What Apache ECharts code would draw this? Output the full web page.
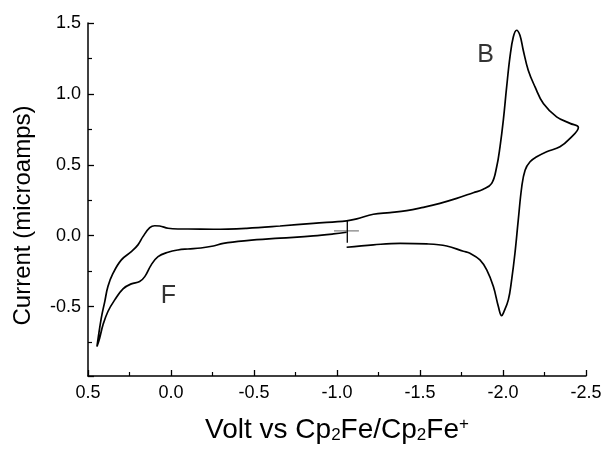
<!DOCTYPE html>
<html>
<head>
<meta charset="utf-8">
<script src="https://cdn.jsdelivr.net/npm/echarts@6/dist/echarts.min.js"></script>
<style>
html,body{margin:0;padding:0;background:#fff;}
#chart{width:603px;height:451px;}
</style>
</head>
<body>
<div id="chart"></div>
<script>
// Lower-left branch (from switching point toward positive limit)
const lowerLeftV = [-1.058,-0.978,-0.857,-0.657,-0.456,-0.315,-0.255,-0.180,-0.102,-0.042,0.018,0.078,0.119,0.158,0.189,0.239,0.289,0.339,0.380,0.410,0.430,0.446];
const lowerLeftI = [0.024,0.012,-0.002,-0.018,-0.035,-0.054,-0.073,-0.087,-0.094,-0.101,-0.117,-0.148,-0.206,-0.289,-0.324,-0.340,-0.375,-0.453,-0.535,-0.630,-0.723,-0.782];
// Upper branch (positive limit to negative limit, through peak B)
const upperV = [0.446,0.420,0.399,0.380,0.349,0.299,0.239,0.199,0.169,0.128,0.098,0.068,0.018,-0.042,-0.102,-0.255,-0.456,-0.657,-0.857,-1.058,-1.119,-1.219,-1.319,-1.420,-1.520,-1.620,-1.721,-1.821,-1.881,-1.932,-1.962,-1.982,-2.002,-2.022,-2.042,-2.062,-2.082,-2.102,-2.122,-2.152,-2.193,-2.243,-2.323,-2.404,-2.454];
const upperI = [-0.782,-0.582,-0.465,-0.359,-0.265,-0.171,-0.113,-0.065,-0.007,0.056,0.070,0.068,0.052,0.047,0.047,0.045,0.052,0.068,0.087,0.104,0.118,0.151,0.162,0.176,0.200,0.228,0.263,0.303,0.327,0.369,0.486,0.627,0.815,1.049,1.261,1.401,1.449,1.413,1.308,1.167,1.049,0.932,0.838,0.792,0.763];
// Return branch (negative limit back to switching point)
const returnV = [-2.454,-2.404,-2.343,-2.263,-2.203,-2.163,-2.133,-2.113,-2.092,-2.072,-2.052,-2.032,-2.002,-1.992,-1.972,-1.942,-1.902,-1.861,-1.801,-1.761,-1.661,-1.540,-1.380,-1.219,-1.058];
const returnI = [0.763,0.686,0.627,0.592,0.556,0.521,0.462,0.345,0.111,-0.124,-0.312,-0.453,-0.546,-0.565,-0.500,-0.359,-0.242,-0.171,-0.124,-0.110,-0.073,-0.058,-0.054,-0.065,-0.082];
// Start marker (cross)
const markerVertV = [-1.062,-1.062];
const markerVertI = [0.105,-0.050];
const markerHorzV = [-0.982,-1.132];
const markerHorzI = [0.033,0.033];
// Peak labels
const labelV = [-1.895, 0.015];
const labelI = [1.273, -0.425];
const labelText = ['B', 'F'];

const FONT = '"Liberation Sans", Arial, Helvetica, sans-serif';

function pairs(v, i, skipFirst) {
  const out = [];
  for (let k = skipFirst ? 1 : 0; k < v.length; k++) out.push([v[k], i[k]]);
  return out;
}
const cvPath = pairs(lowerLeftV, lowerLeftI, false)
  .concat(pairs(upperV, upperI, true))
  .concat(pairs(returnV, returnI, true));

const chart = echarts.init(document.getElementById('chart'), null, {renderer: 'canvas'});
chart.setOption({
  animation: false,
  backgroundColor: '#fff',
  grid: {left: 88, right: 17, top: 23, bottom: 75, containLabel: false, outerBoundsMode: 'none'},
  xAxis: {
    type: 'value', inverse: true, min: -2.5, max: 0.5, interval: 0.5,
    axisLine: {show: true, onZero: false, lineStyle: {color: '#000', width: 1.5}},
    axisTick: {show: true, inside: true, length: 6, lineStyle: {color: '#000', width: 1.3}},
    minorTick: {show: true, splitNumber: 2, length: 4, lineStyle: {color: '#000', width: 1.2}},
    splitLine: {show: false},
    axisLabel: {margin: 8, color: '#000', fontSize: 18, fontFamily: FONT, formatter: v => v.toFixed(1)},
    name: '{a|Volt vs Cp}{s|2}{a|Fe/Cp}{s|2}{a|Fe}{p|+}',
    nameLocation: 'middle', nameGap: 40,
    nameTextStyle: {
      color: '#000', fontFamily: FONT, fontSize: 28,
      rich: {
        a: {fontSize: 28, fontFamily: FONT, color: '#000', lineHeight: 28},
        s: {fontSize: 17, fontFamily: FONT, color: '#000', lineHeight: 17, verticalAlign: 'bottom', padding: [10, 0, 0, 0]},
        p: {fontSize: 17, fontFamily: FONT, color: '#000', lineHeight: 17, verticalAlign: 'top'}
      }
    }
  },
  yAxis: {
    type: 'value', min: -0.99, max: 1.5, splitNumber: 5,
    axisLine: {show: true, onZero: false, lineStyle: {color: '#000', width: 1.5}},
    axisTick: {show: true, inside: true, length: 6, lineStyle: {color: '#000', width: 1.3}},
    minorTick: {show: true, splitNumber: 2, length: 4, lineStyle: {color: '#000', width: 1.2}},
    splitLine: {show: false},
    axisLabel: {margin: 7, color: '#000', fontSize: 18, fontFamily: FONT, showMinLabel: false, formatter: v => v.toFixed(1)},
    name: 'Current (microamps)',
    nameLocation: 'middle', nameGap: 53,
    nameTextStyle: {color: '#000', fontSize: 24, fontFamily: FONT, padding: [0, 32, 0, 0]}
  },
  series: [
    {
      type: 'line', data: cvPath, symbol: 'none', smooth: 0.4,
      lineStyle: {color: '#000', width: 1.7}, z: 3
    },
    {
      type: 'line', data: pairs(markerVertV, markerVertI, false), symbol: 'none',
      lineStyle: {color: '#000', width: 1.3}, z: 4
    },
    {
      type: 'line', data: pairs(markerHorzV, markerHorzI, false), symbol: 'none',
      lineStyle: {color: '#808080', width: 1.3}, z: 2
    },
    {
      type: 'scatter', symbolSize: 0,
      data: labelV.map((v, k) => ({value: [v, labelI[k]], name: labelText[k]})),
      label: {show: true, position: 'inside', formatter: p => p.name, color: '#000', fontSize: 25, fontFamily: FONT, textBorderWidth: 0},
      z: 5
    }
  ]
});
</script>
</body>
</html>
